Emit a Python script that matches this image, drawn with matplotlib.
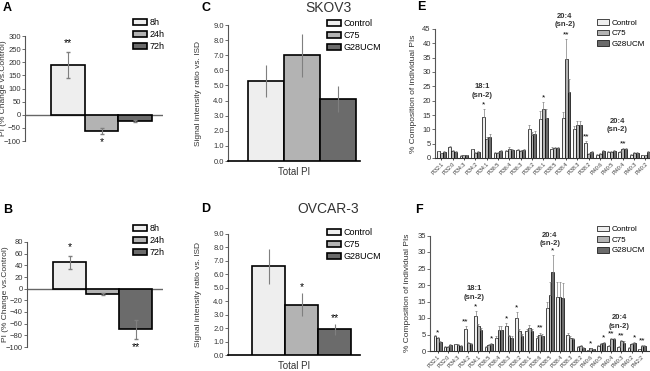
import matplotlib
matplotlib.use("Agg")
import matplotlib.pyplot as plt
import numpy as np

plt.rcParams['font.family'] = ['Liberation Sans', 'DejaVu Sans']

W, H = 650, 371

# panel A / B : PI % change vs control
times = ['8h', '24h', '72h']
a_vals = [190, -63, -23]
a_err = [50, 12, 3]
a_stars = ['**', '*', '']
b_vals = [45, -9, -70]
b_err = [11, 2, 16]
b_stars = ['*', '', '**']

# panel C / D : total PI
treat = ['Control', 'C75', 'G28UCM']
c_vals = [5.3, 7.0, 4.1]
c_err = [1.05, 1.43, 0.85]
c_stars = ['', '', '']
d_vals = [6.6, 3.75, 1.9]
d_err = [1.3, 0.83, 0.4]
d_stars = ['', '*', '**']

# panel E : SKOV3 individual PIs
e_labels = ['PI32:1', 'PI32:0', 'PI34:3', 'PI34:2', 'PI34:1', 'PI36:5', 'PI36:4', 'PI36:3',
            'PI36:2', 'PI36:1', 'PI38:5', 'PI38:4', 'PI38:3', 'PI38:2', 'PI40:6', 'PI40:5',
            'PI40:4', 'PI40:3', 'PI40:2']
e_ctrl = [2.3, 3.8, 0.7, 3.0, 14.3, 1.8, 2.5, 2.7, 10.0, 13.5, 3.2, 14.0, 10.0, 5.2, 1.2, 2.0, 2.0, 1.2, 1.0]
e_c75 = [1.6, 2.3, 1.0, 1.8, 6.5, 1.7, 3.3, 2.4, 8.0, 17.0, 3.5, 34.5, 11.5, 1.5, 1.5, 2.2, 3.0, 1.7, 1.0]
e_g28 = [2.2, 2.0, 1.0, 2.0, 7.3, 2.5, 2.8, 2.7, 8.5, 14.0, 3.5, 23.0, 11.5, 2.0, 2.5, 2.5, 3.0, 1.7, 2.2]
e_ctrl_sd = [0.3, 0.5, 0.2, 0.3, 2.8, 0.3, 0.4, 0.3, 1.5, 3.0, 0.5, 2.0, 1.0, 0.8, 0.2, 0.3, 0.4, 0.2, 0.2]
e_c75_sd = [0.3, 0.4, 0.2, 0.3, 0.8, 0.3, 0.5, 0.3, 1.0, 2.5, 0.5, 7.0, 1.5, 0.3, 0.2, 0.3, 0.5, 0.3, 0.2]
e_g28_sd = [0.3, 0.3, 0.2, 0.3, 1.0, 0.3, 0.4, 0.3, 1.0, 3.0, 0.5, 4.5, 1.5, 0.3, 0.3, 0.3, 0.5, 0.3, 0.3]
e_stars = [(4, 0, '*'), (9, 1, '*'), (11, 1, '**'), (13, 0, '**'), (16, 1, '**')]

# panel F : OVCAR-3 individual PIs
f_labels = ['PI32:1', 'PI32:0', 'PI34:3', 'PI34:2', 'PI34:1', 'PI36:5', 'PI36:4', 'PI36:3',
            'PI36:2', 'PI36:1', 'PI38:6', 'PI38:5', 'PI38:4', 'PI38:3', 'PI38:2', 'PI40:6',
            'PI40:5', 'PI40:4', 'PI40:3', 'PI40:2', 'PI42:2']
f_ctrl = [4.5, 1.2, 2.0, 6.8, 10.5, 1.2, 4.0, 7.5, 10.0, 6.0, 4.0, 13.0, 16.5, 5.0, 1.2, 0.3, 1.5, 1.5, 1.2, 1.0, 0.5]
f_c75 = [3.8, 1.3, 1.8, 2.5, 7.5, 1.8, 6.5, 4.5, 6.0, 7.0, 5.0, 17.0, 16.5, 4.0, 1.5, 0.8, 2.2, 3.5, 3.0, 2.0, 1.5]
f_g28 = [2.7, 1.8, 1.5, 2.2, 6.3, 2.2, 6.5, 4.0, 4.5, 6.0, 4.5, 24.0, 16.0, 3.5, 1.0, 0.5, 2.5, 3.5, 2.5, 2.5, 1.5]
f_ctrl_sd = [0.5, 0.2, 0.2, 0.8, 1.5, 0.2, 0.5, 1.0, 1.8, 0.8, 0.5, 2.0, 4.5, 0.6, 0.2, 0.1, 0.2, 0.2, 0.2, 0.2, 0.1]
f_c75_sd = [0.5, 0.2, 0.2, 0.3, 0.8, 0.2, 1.0, 0.5, 0.8, 0.8, 0.6, 4.0, 4.5, 0.5, 0.2, 0.2, 0.3, 0.5, 0.4, 0.3, 0.2]
f_g28_sd = [0.4, 0.2, 0.2, 0.3, 0.8, 0.3, 1.0, 0.5, 0.6, 0.8, 0.6, 5.0, 4.5, 0.5, 0.2, 0.1, 0.3, 0.5, 0.4, 0.3, 0.2]
f_stars = [(0, 1, '*'), (3, 0, '**'), (4, 0, '*'), (5, 2, '*'), (7, 0, '*'), (8, 0, '*'),
           (10, 1, '**'), (11, 2, '*'), (15, 1, '*'), (16, 2, '*'), (17, 1, '**'),
           (18, 1, '**'), (19, 2, '*'), (20, 1, '**')]

greys = ['#eeeeee', '#b3b3b3', '#6b6b6b']
errc = '#7f7f7f'
txtc = '#333333'

fig = plt.figure(figsize=(W / 100, H / 100), dpi=100)


def px_axes(x0, y0, x1, y1):
    return fig.add_axes([x0 / W, 1 - y1 / H, (x1 - x0) / W, (y1 - y0) / H])


def px_text(x, y, s, **kw):
    fig.text(x / W, 1 - y / H, s, **kw)


def small_ticks(ax):
    ax.tick_params(axis='y', direction='out', length=2, width=0.6, labelsize=5.5,
                   labelcolor=txtc, pad=1, color='#555555')
    ax.spines['left'].set_color('#555555')
    ax.spines['left'].set_linewidth(0.8)
    for s in ['top', 'right']:
        ax.spines[s].set_visible(False)


def legend_at(ax, handles, labels, x, y, fs=6.5):
    ax.legend(handles, labels, loc='upper left', bbox_to_anchor=(x / W, 1 - y / H),
              bbox_transform=fig.transFigure, frameon=False, fontsize=fs,
              handlelength=1.5, handleheight=0.75, labelspacing=0.35,
              handletextpad=0.35, borderaxespad=0, borderpad=0)


# ---------- A and B ----------
for box, vals, errs, stars, ylim, step, letter, lab_y in [
        ((25, 36, 163, 141), a_vals, a_err, a_stars, (-100, 300), 50, 'A', 8),
        ((27, 242, 163, 347), b_vals, b_err, b_stars, (-100, 80), 20, 'B', 210)]:
    ax = px_axes(*box)
    x = np.arange(len(vals)) + 1
    bars = ax.bar(x, vals, width=1.0, color=greys, edgecolor='black', linewidth=1.2, zorder=3)
    ax.errorbar(x, vals, yerr=errs, fmt='none', ecolor=errc, elinewidth=0.8, capsize=1.2, zorder=4)
    ax.axhline(0, color='#666666', lw=1, zorder=2)
    ax.set_xlim(-0.29, 3.83)
    ax.set_ylim(*ylim)
    ax.set_yticks(np.arange(ylim[0], ylim[1] + 1, step))
    ax.set_xticks([])
    ax.spines['bottom'].set_visible(False)
    small_ticks(ax)
    for xi, v, e, s in zip(x, vals, errs, stars):
        if not s:
            continue
        if v > 0:
            ax.annotate(s, (xi, v + e), xytext=(0, 3), textcoords='offset points',
                        ha='center', va='bottom', fontsize=7.5)
        else:
            ax.annotate(s, (xi, v - e), xytext=(0, -2), textcoords='offset points',
                        ha='center', va='top', fontsize=7.5)
    ax.set_ylabel('PI (% Change vs.Control)', fontsize=6, color=txtc)
    ax.yaxis.set_label_coords(-0.13, 0.5)
    legend_at(ax, bars.patches, times, 133, box[1] - 18)
    px_text(3, lab_y, letter, fontsize=9, fontweight='bold', va='center')

# ---------- C and D ----------
for box, vals, errs, stars, title, letter, lab_y, xl in [
        ((228, 25, 360, 161), c_vals, c_err, c_stars, 'SKOV3', 'C', 8, (-1.06, 2.61)),
        ((228, 234, 360, 355), d_vals, d_err, d_stars, 'OVCAR-3', 'D', 209, (-1.23, 2.77))]:
    ax = px_axes(*box)
    x = np.arange(len(vals))
    bars = ax.bar(x, vals, width=1.0, color=greys, edgecolor='black', linewidth=1.2, zorder=3)
    ax.errorbar(x, vals, yerr=errs, fmt='none', ecolor=errc, elinewidth=0.8, capsize=0, zorder=4)
    ax.set_xlim(*xl)
    ax.set_ylim(0, 9)
    ax.set_yticks(np.arange(0, 9.1, 1))
    ax.set_yticklabels(['%.1f' % t for t in np.arange(0, 9.1, 1)])
    ax.set_xticks([])
    small_ticks(ax)
    ax.spines['bottom'].set_linewidth(1.2)
    for xi, v, e, s in zip(x, vals, errs, stars):
        if s:
            ax.annotate(s, (xi, v + e), xytext=(0, 1), textcoords='offset points',
                        ha='center', va='bottom', fontsize=7.5)
    ax.set_xlabel('Total PI', fontsize=7, color=txtc, labelpad=4)
    ax.set_ylabel('Signal intensity ratio vs. ISD', fontsize=6, color=txtc)
    ax.yaxis.set_label_coords(-0.2, 0.5)
    legend_at(ax, bars.patches, treat, 327, box[1] - 6)
    px_text(328, lab_y, title, fontsize=10, ha='center', va='center', color=txtc)
    px_text(201, lab_y, letter, fontsize=9, fontweight='bold', va='center')

# ---------- E and F ----------
for box, labels, series, sds, stars, ymax, xl, letter, lx, lab_y, notes in [
        ((435, 29, 650, 158), e_labels, (e_ctrl, e_c75, e_g28), (e_ctrl_sd, e_c75_sd, e_g28_sd),
         e_stars, 45, (-0.55, 18.4), 'E', 417, 7,
         [(3.6, 23.4, '18:1\n(sn-2)'), (10.9, 48.0, '20:4\n(sn-2)'), (15.5, 11.3, '20:4\n(sn-2)')]),
        ((430, 235.5, 650, 351), f_labels, (f_ctrl, f_c75, f_g28), (f_ctrl_sd, f_c75_sd, f_g28_sd),
         f_stars, 35, (-0.74, 20.8), 'F', 415, 210,
         [(3.6, 17.6, '18:1\n(sn-2)'), (11.0, 33.8, '20:4\n(sn-2)'), (17.8, 8.8, '20:4\n(sn-2)')])]:
    ax = px_axes(*box)
    x = np.arange(len(labels))
    w = 0.26
    handles = []
    for k in range(3):
        xs = x + (k - 1) * w
        b = ax.bar(xs, series[k], width=w, color=greys[k], edgecolor='black', linewidth=0.5, zorder=3)
        ax.errorbar(xs, series[k], yerr=[np.zeros(len(x)), sds[k]], fmt='none', ecolor=errc,
                    elinewidth=0.5, capsize=0.8, capthick=0.5, zorder=4)
        handles.append(b.patches[0])
    for gi, k, s in stars:
        ax.annotate(s, (gi + (k - 1) * w, series[k][gi] + sds[k][gi]), xytext=(0, 0.5),
                    textcoords='offset points', ha='center', va='bottom', fontsize=6)
    for nx, ny, s in notes:
        ax.text(nx, ny, s, ha='center', va='center', fontsize=5.5, fontweight='bold',
                color=txtc, linespacing=1.3)
    ax.set_xlim(*xl)
    ax.set_ylim(0, ymax)
    ax.set_yticks(np.arange(0, ymax + 1, 5))
    small_ticks(ax)
    ax.spines['bottom'].set_color('#333333')
    ax.spines['bottom'].set_linewidth(0.8)
    ax.set_xticks(x)
    ax.set_xticklabels(labels, rotation=45, ha='right', rotation_mode='anchor', fontsize=3.8,
                       color=txtc)
    ax.tick_params(axis='x', length=1.5, width=0.5, pad=1)
    ax.set_ylabel('% Composition of individual PIs', fontsize=6, color=txtc)
    ax.yaxis.set_label_coords(-0.085, 0.5)
    legend_at(ax, handles, treat, 597, box[1] - 10, fs=5.8)
    px_text(lx, lab_y, letter, fontsize=9, fontweight='bold', va='center')

fig.savefig('out.png', dpi=100)
